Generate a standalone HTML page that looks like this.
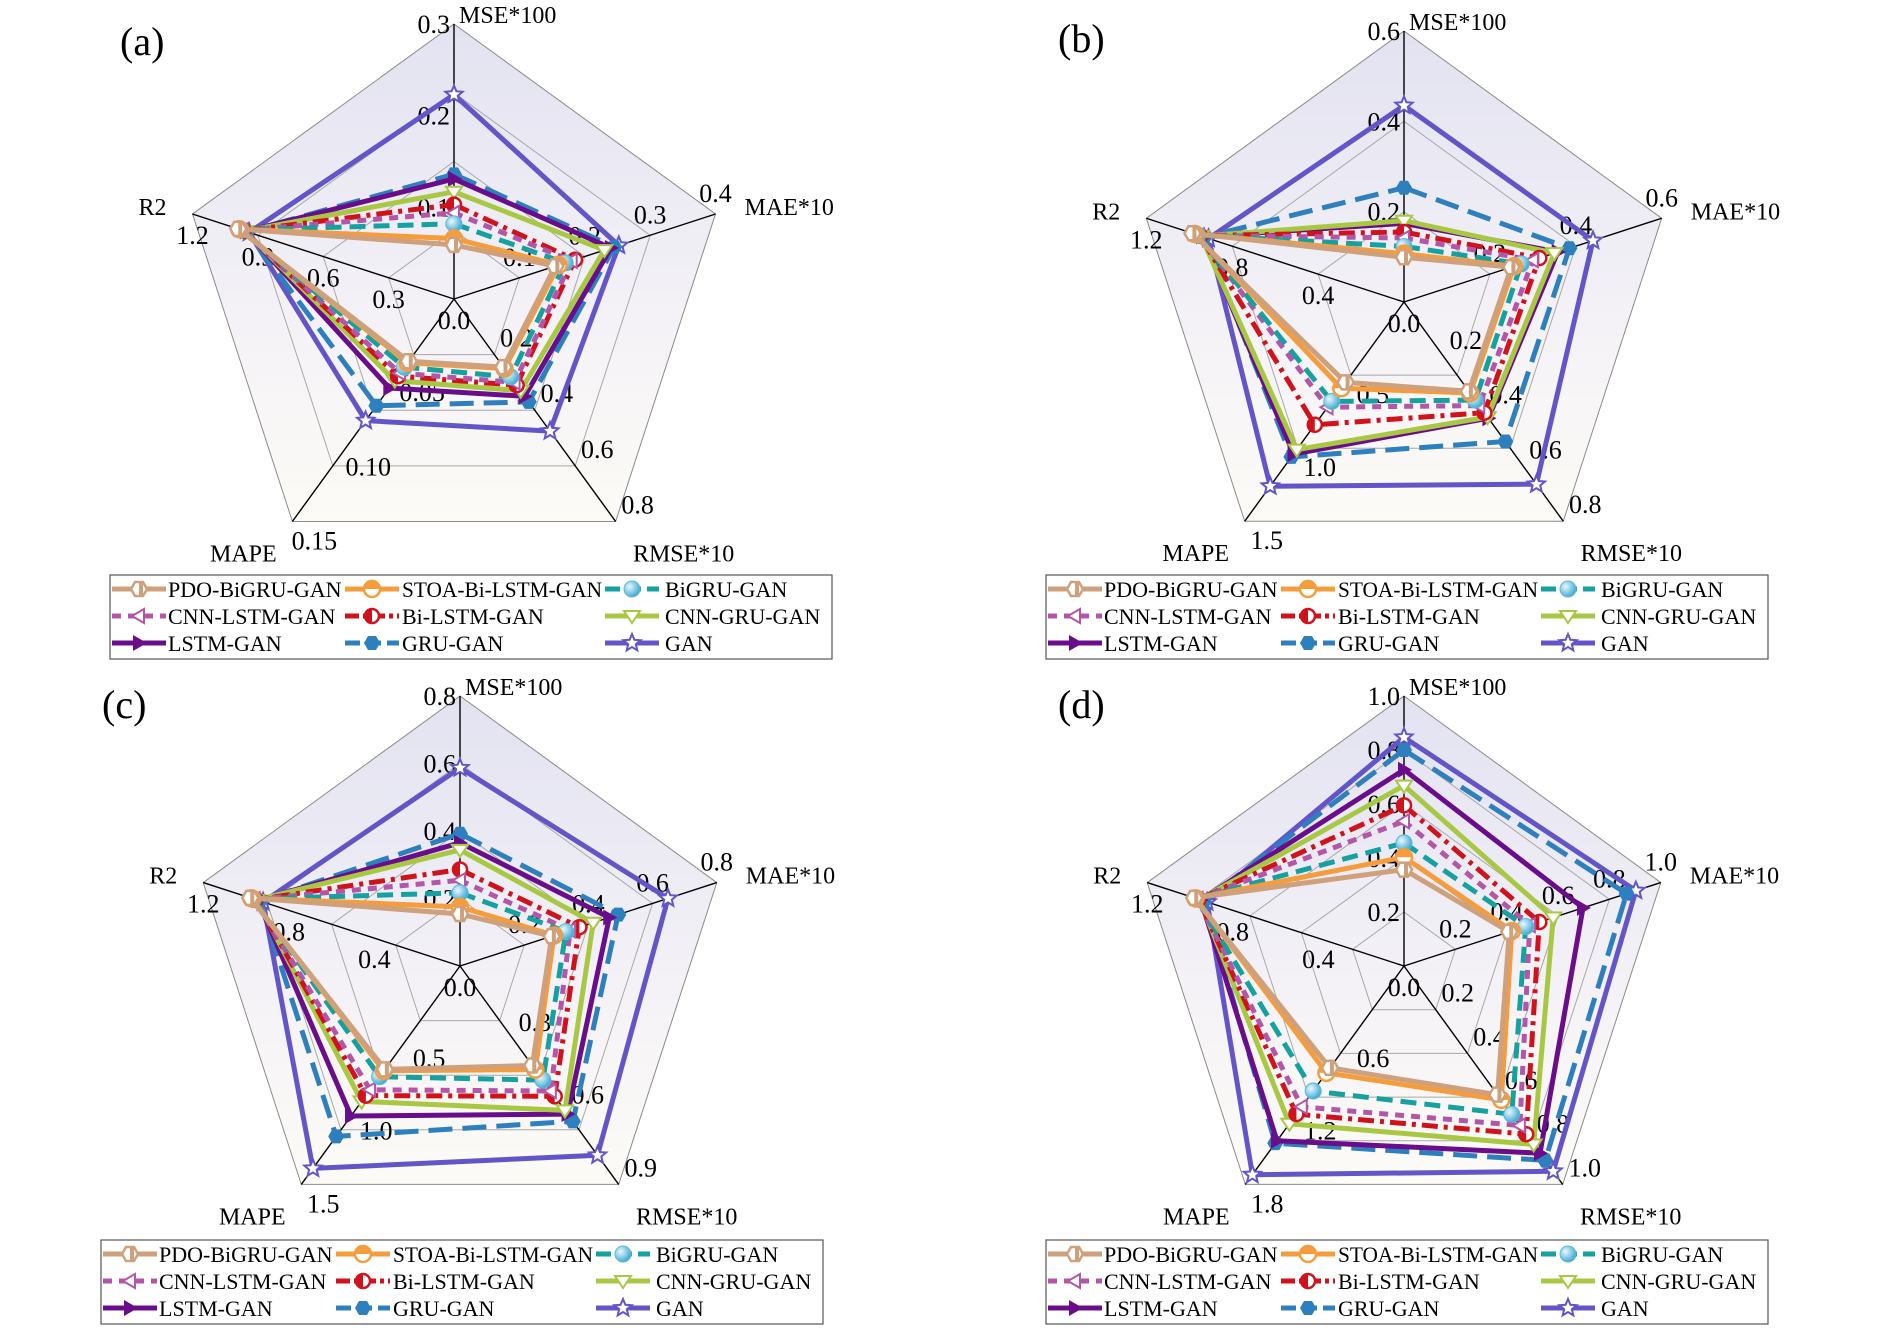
<!DOCTYPE html>
<html><head><meta charset="utf-8"><style>
html,body{margin:0;padding:0;background:#fff;}
svg{display:block;}
svg text{font-family:"Liberation Serif","DejaVu Serif",serif;}
</style></head><body>
<svg id="fig" width="1892" height="1342" viewBox="0 0 1892 1342" xmlns="http://www.w3.org/2000/svg" font-family="Liberation Serif, DejaVu Serif, serif">
<defs>
<linearGradient id="bg" x1="0" y1="0" x2="0" y2="1">
<stop offset="0" stop-color="#e2e2f1"/><stop offset="0.55" stop-color="#f3f1f6"/><stop offset="1" stop-color="#fdfbf6"/>
</linearGradient>
<radialGradient id="sph" cx="0.35" cy="0.35" r="0.7"><stop offset="0" stop-color="#e8f8ff"/><stop offset="1" stop-color="#3aa6cf"/></radialGradient>
</defs>
</svg>
<script>
const seriesNames = ["PDO-BiGRU-GAN","STOA-Bi-LSTM-GAN","BiGRU-GAN","CNN-LSTM-GAN","Bi-LSTM-GAN","CNN-GRU-GAN","LSTM-GAN","GRU-GAN","GAN"];
const axisNames = ["MSE*100","MAE*10","RMSE*10","MAPE","R2"];
const maxA = [0.3,0.4,0.8,0.15,1.2];
const maxB = [0.6,0.6,0.8,1.5,1.2];
const maxC = [0.8,0.8,0.9,1.5,1.2];
const maxD = [1.0,1.0,1.0,1.8,1.2];
const ticksA = [["0.1","0.2","0.3"],["0.1","0.2","0.3","0.4"],["0.2","0.4","0.6","0.8"],["0.05","0.10","0.15"],["0.3","0.6","0.9","1.2"]];
const ticksB = [["0.2","0.4","0.6"],["0.2","0.4","0.6"],["0.2","0.4","0.6","0.8"],["0.5","1.0","1.5"],["0.4","0.8","1.2"]];
const ticksC = [["0.2","0.4","0.6","0.8"],["0.2","0.4","0.6","0.8"],["0.3","0.6","0.9"],["0.5","1.0","1.5"],["0.4","0.8","1.2"]];
const ticksD = [["0.2","0.4","0.6","0.8","1.0"],["0.2","0.4","0.6","0.8","1.0"],["0.2","0.4","0.6","0.8","1.0"],["0.6","1.2","1.8"],["0.4","0.8","1.2"]];
const valuesA = [
 [0.059,0.155,0.245,0.042,0.99],
 [0.066,0.160,0.250,0.043,0.985],
 [0.082,0.170,0.280,0.046,0.975],
 [0.094,0.180,0.300,0.050,0.97],
 [0.103,0.185,0.310,0.052,0.965],
 [0.117,0.230,0.330,0.055,0.96],
 [0.131,0.240,0.350,0.060,0.955],
 [0.136,0.245,0.370,0.072,0.95],
 [0.223,0.252,0.475,0.082,0.94]];
const valuesB = [
 [0.099,0.250,0.326,0.55,0.985],
 [0.107,0.256,0.332,0.59,0.975],
 [0.123,0.273,0.358,0.68,0.96],
 [0.142,0.300,0.378,0.72,0.955],
 [0.155,0.315,0.404,0.84,0.95],
 [0.180,0.350,0.420,1.01,0.945],
 [0.174,0.358,0.424,1.04,0.94],
 [0.253,0.385,0.509,1.06,0.93],
 [0.435,0.440,0.665,1.26,0.91]];
const valuesC = [
 [0.154,0.286,0.410,0.71,0.98],
 [0.175,0.293,0.427,0.72,0.975],
 [0.217,0.330,0.470,0.76,0.965],
 [0.254,0.343,0.515,0.85,0.96],
 [0.286,0.372,0.537,0.89,0.955],
 [0.344,0.415,0.595,0.93,0.95],
 [0.365,0.465,0.610,1.03,0.945],
 [0.392,0.493,0.640,1.17,0.935],
 [0.587,0.648,0.780,1.39,0.92]];
const valuesD = [
 [0.357,0.410,0.589,0.84,0.98],
 [0.403,0.420,0.613,0.88,0.975],
 [0.456,0.474,0.679,1.03,0.97],
 [0.536,0.490,0.730,1.16,0.965],
 [0.595,0.527,0.770,1.22,0.96],
 [0.668,0.581,0.817,1.30,0.955],
 [0.727,0.697,0.857,1.44,0.95],
 [0.800,0.867,0.890,1.46,0.935],
 [0.847,0.903,0.940,1.72,0.92]];

const NS="http://www.w3.org/2000/svg";
const FF="Liberation Serif, DejaVu Serif, serif";
const svg=document.getElementById('fig');
function mk(tag,attrs,parent){const e=document.createElementNS(NS,tag);for(const k in attrs)e.setAttribute(k,attrs[k]);if(tag==='text')e.setAttribute('font-family',FF);(parent||svg).appendChild(e);return e;}
const colors=["#cfa07c","#f59c3c","#17a0a0","#b356a8","#d0121c","#a8c844","#6a0d8a","#2e7fbd","#6355c8"];
const dashes=["","","16 8","9 7","16 6 4 6","","","24 10",""];
const angles=[-90,-18,54,126,198].map(a=>a*Math.PI/180);

function marker(g,i,x,y){
  const c=colors[i];let m;
  if(i===0){m=mk('polygon',{points:[[x-4,y-7],[x+4,y-7],[x+8,y],[x+4,y+7],[x-4,y+7],[x-8,y]].map(p=>p.join(',')).join(' '),fill:'#fff',stroke:c,'stroke-width':2.5},g);
    mk('rect',{x:x,y:y-7,width:4,height:14,fill:c},g);}
  else if(i===1){m=mk('circle',{cx:x,cy:y,r:8,fill:'#fff',stroke:c,'stroke-width':2.5},g);mk('path',{d:`M${x-8},${y} A8,8 0 0 1 ${x+8},${y} Z`,fill:c},g);}
  else if(i===2){m=mk('circle',{cx:x,cy:y,r:8,fill:'url(#sph)',stroke:'#59b8d8','stroke-width':1},g);}
  else if(i===3){m=mk('polygon',{points:`${x-7},${y} ${x+5},${y-7} ${x+5},${y+7}`,fill:'#fff',stroke:c,'stroke-width':2},g);}
  else if(i===4){m=mk('circle',{cx:x,cy:y,r:7,fill:'#fff',stroke:c,'stroke-width':2.5},g);mk('path',{d:`M${x},${y-7} A7,7 0 0 0 ${x},${y+7} Z`,fill:c},g);}
  else if(i===5){m=mk('polygon',{points:`${x-8},${y-5} ${x+8},${y-5} ${x},${y+7}`,fill:'#fff',stroke:c,'stroke-width':2},g);}
  else if(i===6){m=mk('polygon',{points:`${x-6},${y-8} ${x+8},${y} ${x-6},${y+8}`,fill:c},g);}
  else if(i===7){m=mk('polygon',{points:[[x-4,y-7],[x+4,y-7],[x+8,y],[x+4,y+7],[x-4,y+7],[x-8,y]].map(p=>p.join(',')).join(' '),fill:c},g);}
  else {let pts=[];for(let k=0;k<10;k++){const r=k%2?4:9;const a=-Math.PI/2+k*Math.PI/5;pts.push((x+r*Math.cos(a)).toFixed(1)+','+(y+r*Math.sin(a)).toFixed(1));}
    m=mk('polygon',{points:pts.join(' '),fill:'#fff',stroke:c,'stroke-width':2},g);}
  return m;
}

function panel(id,cx,cy,R,maxv,ticks,vals,rings,letter,lx,ly,legX,legY){
  const g=mk('g',{});
  
  
  const pt=(k,f)=>[cx+R*f*Math.cos(angles[k]),cy+R*f*Math.sin(angles[k])];
  const poly=f=>[0,1,2,3,4].map(k=>pt(k,f).map(v=>v.toFixed(1)).join(',')).join(' ');
  const bg=mk('polygon',{points:poly(1),fill:'url(#bg)',stroke:'#8a8a8a','stroke-width':1},g);
  
  
  for(let r=1;r<rings;r++){const ring=mk('polygon',{points:poly(r/rings),fill:'none',stroke:'#a8a8a8','stroke-width':1},g);
    
    }
  for(let k=0;k<5;k++){const p=pt(k,1);const ax=mk('line',{x1:cx,y1:cy,x2:p[0],y2:p[1],stroke:'#000','stroke-width':1.4},g);
    
    }
  const offs=[[-4,9,'end'],[0,-12,'middle'],[22,-8,'middle'],[22,28,'middle'],[0,30,'middle']];
  for(let k=0;k<5;k++){const n=ticks[k].length;ticks[k].forEach((t,j)=>{const p=pt(k,(j+1)/n);
    const tx=mk('text',{x:p[0]+offs[k][0],y:p[1]+offs[k][1],'text-anchor':offs[k][2],'font-size':26,fill:'#000'},g);tx.textContent=t;
    
    });}
  const z=mk('text',{x:cx,y:cy+30,'text-anchor':'middle','font-size':26},g);z.textContent='0.0';
  
  
  const tOff=[[5,-1,'start'],[29,1,'start'],[68,40,'middle'],[-49,40,'middle'],[-26,1,'end']];
  for(let k=0;k<5;k++){const p=pt(k,1);const t=mk('text',{x:p[0]+tOff[k][0],y:p[1]+tOff[k][1],'text-anchor':tOff[k][2],'font-size':24},g);t.textContent=axisNames[k];
    
    }
  for(let i=8;i>=0;i--){
    const pts=vals[i].map((v,k)=>pt(k,v/maxv[k]));
    const sg=mk('g',{},g);
    
    
    const pl=mk('polygon',{points:pts.map(p=>p.map(v=>v.toFixed(1)).join(',')).join(' '),fill:'none',stroke:colors[i],'stroke-width':5,'stroke-linejoin':'round'},sg);
    if(dashes[i])pl.setAttribute('stroke-dasharray',dashes[i]);
    pts.forEach(p=>{const m=marker(sg,i,p[0],p[1]);
      
      });
  }
  const L=mk('text',{x:lx,y:ly,'font-size':40},g);L.textContent=letter;
  
  
  const lg=mk('g',{},g);
  
  
  mk('rect',{x:legX,y:legY,width:722,height:84,fill:'#fff',stroke:'#555','stroke-width':1.2},lg);
  const colX=[2,235,495],txtX=[58,292,555],rowY=[14,41,68],maxW=[174,200,160];
  for(let i=0;i<9;i++){const c=i%3,r=Math.floor(i/3);const y=legY+rowY[r];const x0=legX+colX[c];
    const e=mk('g',{},lg);
    
    
    const ln=mk('line',{x1:x0,y1:y,x2:x0+54,y2:y,stroke:colors[i],'stroke-width':5},e);
    if(dashes[i])ln.setAttribute('stroke-dasharray',i===3?'9 7':(i===4?'14 4 4 4':'15 6'));
    marker(e,i,x0+27,y);
    const t=mk('text',{x:legX+txtX[c],y:y+8,'font-size':22},e);t.textContent=seriesNames[i];
    try{const w=t.getComputedTextLength();if(w>maxW[c]){t.setAttribute('textLength',maxW[c]);t.setAttribute('lengthAdjust','spacingAndGlyphs');}}catch(err){}
  }
}
panel('a',454,299,275,maxA,ticksA,valuesA,4,'(a)',120,55,110,575);
panel('b',1404,302,271,maxB,ticksB,valuesB,3,'(b)',1058,52,1046,575);
panel('c',460,966,270,maxC,ticksC,valuesC,4,'(c)',102,718,101,1240);
panel('d',1404,966,270,maxD,ticksD,valuesD,5,'(d)',1058,718,1046,1240);
</script>
</body></html>
